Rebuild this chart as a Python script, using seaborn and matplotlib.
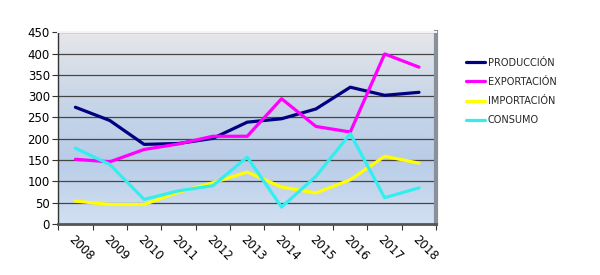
import numpy as np
import pandas as pd
import matplotlib
matplotlib.use("Agg")
import matplotlib.pyplot as plt
import seaborn as sns
from matplotlib.colors import LinearSegmentedColormap
from matplotlib.lines import Line2D

years = ["2008", "2009", "2010", "2011", "2012", "2013", "2014", "2015", "2016", "2017", "2018"]
produccion = [274, 243, 187, 189, 201, 239, 247, 270, 321, 302, 309]
exportacion = [152, 146, 175, 188, 206, 206, 294, 229, 216, 399, 368]
importacion = [54, 46, 46, 75, 97, 122, 87, 73, 104, 159, 143]
consumo = [178, 140, 58, 78, 90, 157, 40, 112, 212, 62, 85]
series_names = ["PRODUCCIÓN", "EXPORTACIÓN", "IMPORTACIÓN", "CONSUMO"]
colors = ["#000080", "#ff00ff", "#ffff00", "#33eeee"]

df = pd.DataFrame({
    "year": years * 4,
    "value": produccion + exportacion + importacion + consumo,
    "serie": sum([[n] * len(years) for n in series_names], []),
})

sns.set_theme(style="white")
plt.rcParams["font.family"] = ["DejaVu Sans"]

fig = plt.figure(figsize=(6.0, 2.75), dpi=100)
ax = fig.add_axes([0.097, 0.185, 0.63, 0.698])

# gradient background
cmap = LinearSegmentedColormap.from_list("bg", ["#e6e7ea", "#c9d6e8", "#b9cde8", "#d2e0f2"])
grad = np.linspace(0, 1, 256).reshape(-1, 1)
ax.imshow(grad, aspect="auto", cmap=cmap, extent=(-0.5, 10.5, 0, 450), origin="upper", zorder=0)

sns.lineplot(data=df, x="year", y="value", hue="serie", palette=colors,
             hue_order=series_names, linewidth=2.3, ax=ax, legend=False, zorder=3, sort=False)

ax.set_xlim(-0.5, 10.5)
ax.set_ylim(0, 450)
ax.set_yticks(np.arange(0, 451, 50))
for gy in np.arange(50, 451, 50):
    ax.axhline(gy, color="#454545", linewidth=0.9, zorder=1)
ax.set_xlabel("")
ax.set_ylabel("")

ax.set_xticks(range(len(years)))
ax.set_xticklabels(years, rotation=-45, ha="left", va="top", rotation_mode="anchor")
ax.set_xticks(np.arange(-0.5, 10.6, 1), minor=True)
ax.tick_params(axis="x", which="major", length=0, pad=6, labelsize=8.5, colors="black")
ax.tick_params(axis="x", which="minor", length=4, width=0.8, color="#333333", direction="out", bottom=True)
ax.tick_params(axis="y", which="major", length=4, width=0.8, color="#333333", direction="out", left=True,
               labelsize=8.5, labelcolor="black", pad=2)

ax.spines["left"].set_color("#333333")
ax.spines["left"].set_linewidth(1.0)
ax.spines["bottom"].set_color("#555555")
ax.spines["bottom"].set_linewidth(2.0)
ax.spines["right"].set_color("#8a9099")
ax.spines["right"].set_linewidth(3.0)
ax.spines["top"].set_color("#f4f4f4")
ax.spines["top"].set_linewidth(1.5)

handles = [Line2D([0], [0], color=c, linewidth=2.3) for c in colors]
fig.legend(handles, series_names, loc="upper left", bbox_to_anchor=(0.77, 0.805),
           frameon=False, fontsize=7, handlelength=2.0, handletextpad=0.25,
           labelspacing=0.95, borderaxespad=0)

fig.savefig("out.png", dpi=100, facecolor="white")
